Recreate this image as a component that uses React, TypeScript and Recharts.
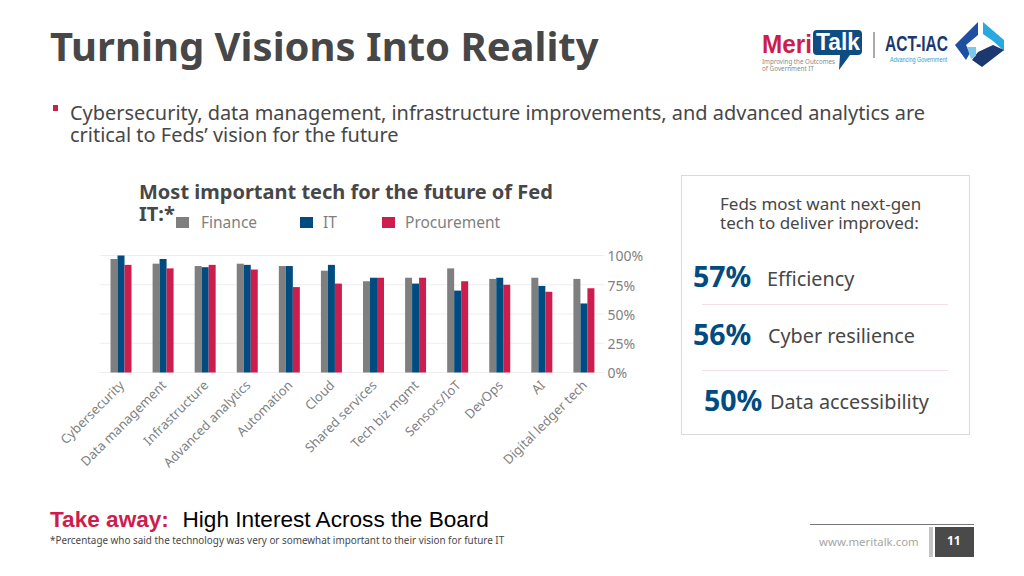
import { BarChart, Bar, XAxis, YAxis, CartesianGrid, Legend } from 'recharts'

const categories = [
  'Cybersecurity',
  'Data management',
  'Infrastructure',
  'Advanced analytics',
  'Automation',
  'Cloud',
  'Shared services',
  'Tech biz mgmt',
  'Sensors/IoT',
  'DevOps',
  'AI',
  'Digital ledger tech',
]
const finance = [97, 93, 91, 93, 91, 87, 78, 81, 89, 80, 81, 80]
const it = [100, 97, 90, 92, 91, 92, 81, 76, 70, 81, 74, 59]
const procurement = [92, 89, 92, 88, 73, 76, 81, 81, 78, 75, 69, 72]
const yTicks = [0, 25, 50, 75, 100]

const chartData = categories.map((name, i) => ({
  name,
  Finance: finance[i],
  IT: it[i],
  Procurement: procurement[i],
}))

const FONT = '"Noto Sans", sans-serif'
const GREY = '#7f7f7f'
const BLUE = '#004b80'
const RED = '#cd1d4d'
const TEXT = '#474747'

const legendX = [0, 124, 206]
const legendGap = [12, 10, 10]

function text(left: number, top: number, size: number, content: string, extra = {}) {
  return (
    <div
      style={{
        position: 'absolute',
        left,
        top,
        fontSize: size,
        fontFamily: FONT,
        color: TEXT,
        whiteSpace: 'nowrap',
        lineHeight: 1,
        ...extra,
      }}
    >
      {content}
    </div>
  )
}

function ChartLegend({ payload }: any) {
  return (
    <div style={{ position: 'relative', height: 20, width: 340 }}>
      {(payload || []).map((p: any, i: number) => (
        <div key={p.value} style={{ position: 'absolute', left: legendX[i], top: 0, display: 'flex', alignItems: 'center' }}>
          <span style={{ width: 13, height: 11, background: p.color, marginRight: legendGap[i] }} />
          <span style={{ fontFamily: FONT, fontSize: 15.5, color: '#7f7f7f', lineHeight: '20px' }}>{p.value}</span>
        </div>
      ))}
    </div>
  )
}

function Logos() {
  return (
    <svg width={270} height={70} style={{ position: 'absolute', left: 750, top: 10 }}>
      <text x={12} y={43} fontFamily="Liberation Sans" fontWeight="700" fontSize={25} fill={RED} textLength={50} lengthAdjust="spacingAndGlyphs">Meri</text>
      <path d="M67 20 H108 Q112 20 112 24 V41 Q112 45 108 45 H100 L89 60 L90 45 H67 Q63 45 63 41 V24 Q63 20 67 20 Z" fill="#0f4c81" />
      <text x={66} y={40} fontFamily="Liberation Sans" fontWeight="700" fontSize={23} fill="#fff" textLength={44} lengthAdjust="spacingAndGlyphs">Talk</text>
      <text x={12} y={54} fontFamily={FONT} fontSize={7} fill="#8a8a8a" textLength={73} lengthAdjust="spacingAndGlyphs">Improving the Outcomes</text>
      <text x={12} y={61} fontFamily={FONT} fontSize={7} fill="#8a8a8a" textLength={52} lengthAdjust="spacingAndGlyphs">of Government IT</text>
      <line x1={124} y1={22} x2={124} y2={48} stroke="#555" strokeWidth={1} />
      <text x={135} y={41} fontFamily="Liberation Sans Narrow, Liberation Sans" fontWeight="700" fontSize={22} fill="#1d3770" textLength={63} lengthAdjust="spacingAndGlyphs">ACT-IAC</text>
      <text x={140} y={52} fontFamily="Liberation Sans Narrow, Liberation Sans" fontSize={7.5} fill="#2a9fd6" textLength={57} lengthAdjust="spacingAndGlyphs">Advancing Government</text>
      <path d="M205 35 L228 12 V25 L216 35 L220 43 L216 50 Z" fill="#1f4fa0" />
      <path d="M233 12 L254 30 V41 L243 31 L233 24 Z" fill="#2aa8e0" />
      <path d="M228 42 L243 35 L254 40 L232 57 L222 50 Z" fill="#1d3770" />
      <path d="M217 37 H226 V46 L221 49 Z" fill="#7cc8ea" />
    </svg>
  )
}

export default function App() {
  return (
    <div style={{ position: 'absolute', left: 0, top: 0, width: 1024, height: 576, background: '#fff', overflow: 'hidden' }}>
      {text(50, 26, 40, 'Turning Visions Into Reality', { fontWeight: 700 })}
      <Logos />

      <div style={{ position: 'absolute', left: 53, top: 105, width: 5, height: 6, background: RED }} />
      {text(70, 103, 19.95, 'Cybersecurity, data management, infrastructure improvements, and advanced analytics are')}
      {text(70, 125, 19.95, 'critical to Feds’ vision for the future')}

      <BarChart
        width={1024}
        height={576}
        data={chartData}
        margin={{ top: 255.5, right: 359.5, bottom: 83.5, left: 99.5 }}
        barGap={0}
        style={{ position: 'absolute', left: 0, top: 0 }}
      >
        <CartesianGrid horizontal vertical={false} stroke="#eeeeee" />
        <XAxis
          dataKey="name"
          interval={0}
          height={100}
          axisLine={false}
          tickLine={false}
          angle={-45}
          textAnchor="end"
          tick={{ fontSize: 13, fill: '#7f7f7f', fontFamily: FONT, dx: -2, dy: -1 }}
        />
        <YAxis
          orientation="right"
          domain={[0, 100]}
          ticks={yTicks}
          width={60}
          axisLine={false}
          tickLine={false}
          tickFormatter={(v: number) => `${v}%`}
          tick={{ fontSize: 14, fill: '#7f7f7f', fontFamily: FONT, dx: -5, dy: 1 }}
        />
        <Legend
          content={<ChartLegend />}
          wrapperStyle={{ position: 'absolute', left: 176, top: 212, width: 340 }}
        />
        <Bar dataKey="Finance" fill={GREY} barSize={7} isAnimationActive={false} />
        <Bar dataKey="IT" fill={BLUE} barSize={7} isAnimationActive={false} />
        <Bar dataKey="Procurement" fill={RED} barSize={7} isAnimationActive={false} />
      </BarChart>

      {text(139, 182, 20, 'Most important tech for the future of Fed', { fontWeight: 700 })}
      {text(139, 204, 20, 'IT:*', { fontWeight: 700 })}

      <div style={{ position: 'absolute', left: 681, top: 175, width: 287, height: 258, border: '1px solid #d9d9d9' }} />
      {text(720, 194.5, 17, 'Feds most want next-gen')}
      {text(720, 214, 17, 'tech to deliver improved:')}
      {text(693, 262, 28.5, '57%', { fontWeight: 700, color: BLUE })}
      {text(767, 269, 19.8, 'Efficiency')}
      <div style={{ position: 'absolute', left: 702, top: 304, width: 246, height: 1, background: '#f6dfe5' }} />
      {text(693, 320, 28.5, '56%', { fontWeight: 700, color: BLUE })}
      {text(768, 326, 19.8, 'Cyber resilience')}
      <div style={{ position: 'absolute', left: 702, top: 370, width: 246, height: 1, background: '#f6dfe5' }} />
      {text(704, 386, 28.5, '50%', { fontWeight: 700, color: BLUE })}
      {text(770, 392, 19.8, 'Data accessibility')}

      {text(50, 509, 22.6, 'Take away:', { fontFamily: '"Liberation Sans"', fontWeight: 700, color: RED })}
      {text(182.5, 509, 22.6, 'High Interest Across the Board', { fontFamily: '"Liberation Sans"', color: '#000' })}
      {text(50, 536, 9.9, '*Percentage who said the technology was very or somewhat important to their vision for future IT')}

      <div style={{ position: 'absolute', left: 810, top: 524, width: 164, height: 1, background: '#777' }} />
      {text(819, 535.5, 11.4, 'www.meritalk.com', { color: '#a6a6a6' })}
      <div style={{ position: 'absolute', left: 929, top: 527, width: 4, height: 30, background: '#c4c4c4' }} />
      <div style={{ position: 'absolute', left: 935, top: 527, width: 39, height: 30, background: '#4a4a4a' }} />
      {text(947, 535, 12, '11', { color: '#fff', fontWeight: 700 })}
    </div>
  )
}
